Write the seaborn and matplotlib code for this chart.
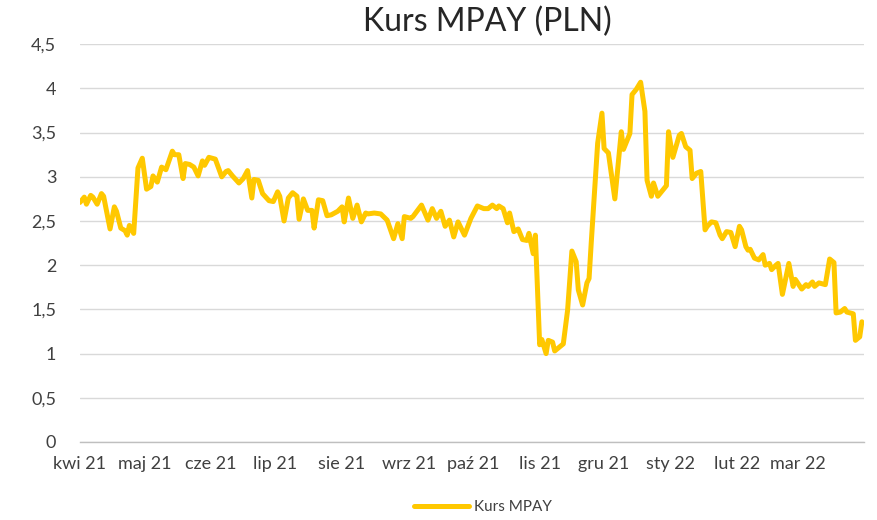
import pandas as pd
import matplotlib
matplotlib.use("Agg")
import matplotlib.pyplot as plt
import matplotlib.ticker as mticker
import numpy as np
import seaborn as sns

# kurs MPAY
dates = [
    "2021-04-01", "2021-04-03", "2021-04-04", "2021-04-06", "2021-04-07", "2021-04-09",
    "2021-04-11", "2021-04-12", "2021-04-15", "2021-04-17", "2021-04-18", "2021-04-20",
    "2021-04-22", "2021-04-23", "2021-04-24", "2021-04-26", "2021-04-28", "2021-04-30",
    "2021-05-02", "2021-05-04", "2021-05-05", "2021-05-07", "2021-05-09", "2021-05-11",
    "2021-05-14", "2021-05-15", "2021-05-17", "2021-05-19", "2021-05-20", "2021-05-22",
    "2021-05-24", "2021-05-26", "2021-05-28", "2021-05-29", "2021-05-31", "2021-06-03",
    "2021-06-06", "2021-06-08", "2021-06-09", "2021-06-11", "2021-06-14", "2021-06-16",
    "2021-06-18", "2021-06-20", "2021-06-21", "2021-06-23", "2021-06-25", "2021-06-28",
    "2021-06-30", "2021-07-02", "2021-07-03", "2021-07-05", "2021-07-07", "2021-07-09",
    "2021-07-11", "2021-07-12", "2021-07-14", "2021-07-16", "2021-07-18", "2021-07-19",
    "2021-07-21", "2021-07-23", "2021-07-25", "2021-07-27", "2021-07-30", "2021-08-01",
    "2021-08-02", "2021-08-04", "2021-08-06", "2021-08-08", "2021-08-10", "2021-08-12",
    "2021-08-13", "2021-08-16", "2021-08-19", "2021-08-22", "2021-08-25", "2021-08-27",
    "2021-08-29", "2021-08-30", "2021-09-02", "2021-09-03", "2021-09-07", "2021-09-10",
    "2021-09-12", "2021-09-14", "2021-09-16", "2021-09-18", "2021-09-20", "2021-09-22",
    "2021-09-24", "2021-09-27", "2021-09-30", "2021-10-03", "2021-10-06", "2021-10-08",
    "2021-10-10", "2021-10-12", "2021-10-13", "2021-10-15", "2021-10-17", "2021-10-18",
    "2021-10-20", "2021-10-22", "2021-10-24", "2021-10-26", "2021-10-27", "2021-10-29",
    "2021-10-30", "2021-11-01", "2021-11-02", "2021-11-04", "2021-11-05", "2021-11-07",
    "2021-11-08", "2021-11-12", "2021-11-14", "2021-11-16", "2021-11-18", "2021-11-19",
    "2021-11-21", "2021-11-23", "2021-11-24", "2021-11-25", "2021-11-28", "2021-11-30",
    "2021-12-01", "2021-12-03", "2021-12-06", "2021-12-09", "2021-12-10", "2021-12-13",
    "2021-12-14", "2021-12-16", "2021-12-18", "2021-12-20", "2021-12-21", "2021-12-23",
    "2021-12-24", "2021-12-26", "2021-12-27", "2021-12-30", "2021-12-31", "2022-01-02",
    "2022-01-05", "2022-01-06", "2022-01-08", "2022-01-10", "2022-01-11", "2022-01-13",
    "2022-01-15", "2022-01-17", "2022-01-18", "2022-01-20", "2022-01-22", "2022-01-24",
    "2022-01-25", "2022-01-27", "2022-01-29", "2022-01-31", "2022-02-02", "2022-02-03",
    "2022-02-05", "2022-02-06", "2022-02-07", "2022-02-09", "2022-02-11", "2022-02-13",
    "2022-02-14", "2022-02-16", "2022-02-17", "2022-02-19", "2022-02-20", "2022-02-22",
    "2022-02-25", "2022-02-27", "2022-02-28", "2022-03-03", "2022-03-05", "2022-03-06",
    "2022-03-08", "2022-03-09", "2022-03-11", "2022-03-14", "2022-03-16", "2022-03-18",
    "2022-03-19", "2022-03-21", "2022-03-23", "2022-03-24", "2022-03-27", "2022-03-28",
    "2022-03-30", "2022-03-31",
]
kurs = [
    2.71, 2.77, 2.69, 2.79, 2.77, 2.69,
    2.81, 2.78, 2.41, 2.66, 2.61, 2.42,
    2.39, 2.34, 2.45, 2.36, 3.10, 3.21,
    2.86, 2.89, 3.01, 2.94, 3.11, 3.08,
    3.29, 3.25, 3.25, 2.98, 3.15, 3.14,
    3.11, 3.01, 3.18, 3.13, 3.22, 3.20,
    3.00, 3.06, 3.07, 3.01, 2.93, 2.98,
    3.07, 2.76, 2.97, 2.96, 2.81, 2.73,
    2.72, 2.83, 2.78, 2.50, 2.76, 2.82,
    2.78, 2.52, 2.75, 2.62, 2.62, 2.42,
    2.74, 2.73, 2.56, 2.57, 2.61, 2.66,
    2.49, 2.76, 2.53, 2.68, 2.49, 2.59,
    2.58, 2.59, 2.58, 2.51, 2.30, 2.47,
    2.30, 2.55, 2.53, 2.55, 2.68, 2.51,
    2.64, 2.53, 2.61, 2.44, 2.51, 2.32,
    2.49, 2.34, 2.53, 2.67, 2.64, 2.64,
    2.68, 2.64, 2.67, 2.64, 2.48, 2.59,
    2.38, 2.41, 2.29, 2.28, 2.36, 2.13,
    2.34, 1.10, 1.16, 1.00, 1.15, 1.13,
    1.03, 1.11, 1.49, 2.16, 2.04, 1.72,
    1.55, 1.80, 1.85, 2.25, 3.38, 3.72,
    3.32, 3.27, 2.75, 3.51, 3.31, 3.49,
    3.93, 3.99, 4.07, 3.74, 2.96, 2.78,
    2.93, 2.78, 2.81, 2.90, 3.51, 3.22,
    3.47, 3.49, 3.34, 3.30, 2.98, 3.04,
    3.06, 2.40, 2.44, 2.49, 2.48, 2.34,
    2.30, 2.38, 2.37, 2.21, 2.44, 2.40,
    2.21, 2.17, 2.18, 2.08, 2.06, 2.12,
    2.00, 2.02, 1.95, 2.00, 2.02, 1.67,
    2.02, 1.76, 1.84, 1.73, 1.78, 1.76,
    1.81, 1.76, 1.80, 1.78, 2.07, 2.03,
    1.46, 1.47, 1.51, 1.47, 1.45, 1.15,
    1.19, 1.36,
]
months = pd.date_range("2021-04-01", "2022-03-01", freq="MS")
month_labels = ["kwi 21", "maj 21", "cze 21", "lip 21", "sie 21", "wrz 21",
                "paź 21", "lis 21", "gru 21", "sty 22", "lut 22", "mar 22"]

df = pd.DataFrame({"data": pd.to_datetime(dates), "Kurs MPAY": kurs})

sns.set_style("white")
plt.rcParams["font.family"] = ["Lato", "DejaVu Sans"]

fig = plt.figure(figsize=(8.77, 5.20), dpi=100)
ax = fig.add_axes([0.0912, 0.150, 0.8940, 0.765])

sns.lineplot(data=df, x="data", y="Kurs MPAY", color="#FFC800", linewidth=3.6,
             label="Kurs MPAY", ax=ax, legend=False)

start = pd.Timestamp("2021-04-01")
end = pd.Timestamp("2022-04-01")
ax.set_xlim(start, end)
ax.set_ylim(0, 4.5)
ax.set_yticks(np.arange(0, 4.51, 0.5))
ax.yaxis.set_major_formatter(mticker.FuncFormatter(lambda v, p: f"{v:g}".replace(".", ",")))
ax.yaxis.grid(True, color="#D9D9D9", linewidth=1)
ax.set_axisbelow(True)

ax.set_xticks(months)
ax.set_xticklabels(month_labels)
minor = pd.date_range(start, end, periods=81)
ax.set_xticks(minor, minor=True)
ax.tick_params(axis="x", which="major", length=0, pad=10, labelsize=13, colors="#404040")
ax.tick_params(axis="x", which="minor", length=4, width=0.8, color="#BFBFBF", direction="out")
ax.tick_params(axis="y", length=0, pad=17, labelsize=13, colors="#404040")

for s in ["top", "right", "left"]:
    ax.spines[s].set_visible(False)
ax.spines["bottom"].set_color("#BFBFBF")
ax.spines["bottom"].set_linewidth(1)

ax.set_xlabel("")
ax.set_ylabel("")

fig.text(0.556, 0.957, "Kurs MPAY (PLN)", ha="center", va="center", fontsize=23, color="#262626")

handles, labels = ax.get_legend_handles_labels()
fig.legend(handles, labels, loc="center", bbox_to_anchor=(0.551, 0.025), frameon=False,
           fontsize=11, handlelength=3.6, handletextpad=0.3, labelcolor="#404040")

fig.savefig("out.png", dpi=100)
